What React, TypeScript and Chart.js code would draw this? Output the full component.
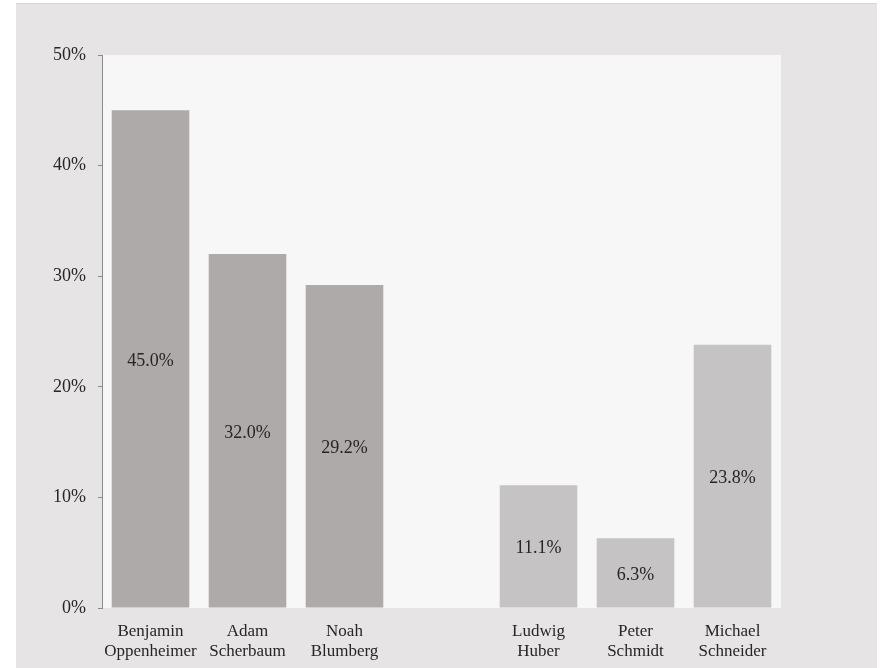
import React, { useEffect, useRef } from "react";
import { Chart, registerables } from "chart.js";

Chart.register(...registerables);

const categories: string[][] = [
  ["Benjamin", "Oppenheimer"],
  ["Adam", "Scherbaum"],
  ["Noah", "Blumberg"],
  [""],
  ["Ludwig", "Huber"],
  ["Peter", "Schmidt"],
  ["Michael", "Schneider"],
];
const values: (number | null)[] = [45.0, 32.0, 29.2, null, 11.1, 6.3, 23.8];
const barColors: string[] = ["#aeaaa9", "#aeaaa9", "#aeaaa9", "#aeaaa9", "#c5c3c4", "#c5c3c4", "#c5c3c4"];
const yTicks: number[] = [0, 10, 20, 30, 40, 50];

const FONT = "'Liberation Serif', 'Times New Roman', serif";
const TEXT = "#262626";

const plotBg = {
  id: "plotBg",
  beforeDraw(chart: any) {
    const { ctx, chartArea } = chart;
    ctx.save();
    ctx.fillStyle = "#f7f7f7";
    ctx.fillRect(chartArea.left, chartArea.top, chartArea.right - chartArea.left, chartArea.bottom - chartArea.top);
    ctx.restore();
  },
};

const barLabels = {
  id: "barLabels",
  afterDatasetsDraw(chart: any) {
    const { ctx } = chart;
    const meta = chart.getDatasetMeta(0);
    ctx.save();
    ctx.font = `18px ${FONT}`;
    ctx.fillStyle = TEXT;
    ctx.textAlign = "center";
    ctx.textBaseline = "middle";
    meta.data.forEach((bar: any, i: number) => {
      const v = values[i];
      if (v === null || v === undefined) return;
      const yMid = (bar.y + bar.base) / 2 + 2;
      ctx.fillText(v.toFixed(1) + "%", bar.x, yMid);
    });
    ctx.restore();
  },
};

export default function App() {
  const ref = useRef<HTMLCanvasElement>(null);
  useEffect(() => {
    if (!ref.current) return;
    const chart = new Chart(ref.current, {
      type: "bar",
      data: {
        labels: categories,
        datasets: [
          {
            data: values,
            backgroundColor: barColors,
            categoryPercentage: 0.8,
            barPercentage: 1.0,
          },
        ],
      },
      options: {
        responsive: false,
        animation: false,
        layout: { padding: { top: 55, right: 100, bottom: 0, left: 0 } },
        plugins: {
          legend: { display: false },
          tooltip: { enabled: false },
        },
        scales: {
          x: {
            grid: { display: false },
            border: { display: false },
            ticks: {
              padding: 5,
              color: TEXT,
              font: { family: FONT, size: 17, lineHeight: 1.2 },
              maxRotation: 0,
              autoSkip: false,
            },
            afterFit(scale: any) {
              scale.height = 60;
            },
          },
          y: {
            min: 0,
            max: 50,
            afterBuildTicks(scale: any) {
              scale.ticks = yTicks.map((v) => ({ value: v }));
            },
            grid: {
              drawOnChartArea: false,
              drawTicks: true,
              tickLength: 4,
              color: "#8a8a8a",
            },
            border: { display: true, color: "#8a8a8a", width: 1 },
            ticks: {
              padding: 12,
              color: TEXT,
              font: { family: FONT, size: 18 },
              callback: (v: any) => v + "%",
            },
            afterFit(scale: any) {
              scale.width = 102;
            },
          },
        },
      },
      plugins: [plotBg, barLabels],
    });
    return () => chart.destroy();
  }, []);

  return (
    <div style={{ position: "absolute", left: 0, top: 0, width: 881, height: 668, background: "#ffffff", overflow: "hidden" }}>
      <div
        style={{
          position: "absolute",
          left: 16,
          top: 3,
          width: 861,
          height: 665,
          background: "#e6e4e5",
          borderTop: "1px solid #d6d6d6",
          boxSizing: "border-box",
        }}
      />
      <canvas ref={ref} width={881} height={668} style={{ position: "absolute", left: 0, top: 0 }} />
    </div>
  );
}
